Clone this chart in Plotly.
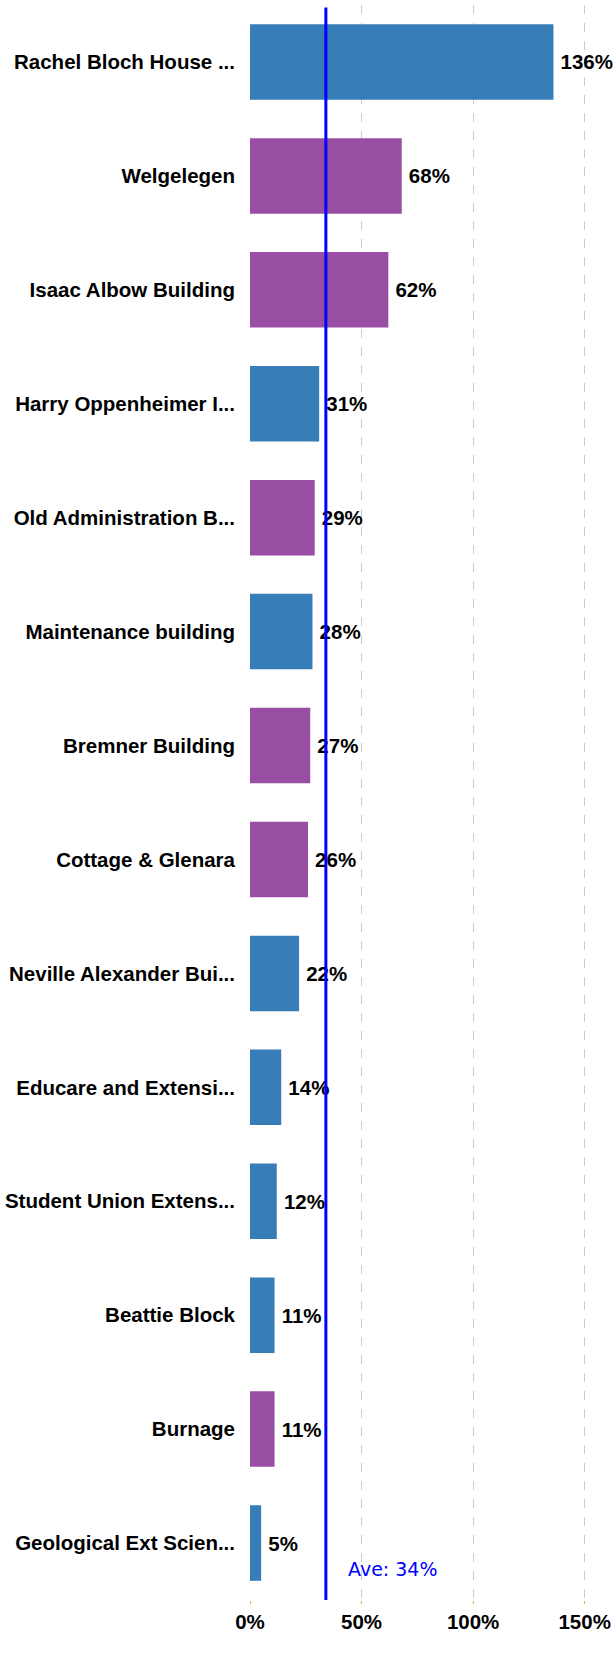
import plotly.graph_objects as go

categories = ["Rachel Bloch House ...", "Welgelegen", "Isaac Albow Building",
              "Harry Oppenheimer I...", "Old Administration B...", "Maintenance building",
              "Bremner Building", "Cottage & Glenara", "Neville Alexander Bui...",
              "Educare and Extensi...", "Student Union Extens...", "Beattie Block",
              "Burnage", "Geological Ext Scien..."]
values = [136, 68, 62, 31, 29, 28, 27, 26, 22, 14, 12, 11, 11, 5]
groups = ["b", "p", "p", "b", "p", "b", "p", "p", "b", "b", "b", "b", "p", "b"]
average = 34
x_ticks = [0, 50, 100, 150]

color_map = {"b": "#377eb8", "p": "#984ea3"}
colors = [color_map[g] for g in groups]

fig = go.Figure(go.Bar(
    x=values, y=categories, orientation="h",
    marker=dict(color=colors, line=dict(width=0)),
    text=[f"\u2009{v}%" for v in values], textposition="outside",
    textfont=dict(family="Liberation Sans, Arial, sans-serif", size=20.5, color="black", weight="bold"),
    cliponaxis=False,
))

fig.add_shape(type="line", xref="x", yref="paper", x0=average, x1=average, y0=0, y1=0.9985,
              line=dict(color="#0000ff", width=3))
fig.add_annotation(xref="x", yref="paper", x=43, y=0.011, xanchor="left", yanchor="bottom",
                   text=f"Ave: {average}%", showarrow=False,
                   font=dict(family="DejaVu Sans, Verdana, sans-serif", size=19, color="#0000ff"))

fig.update_layout(
    width=616, height=1654,
    margin=dict(l=250, r=7, t=5, b=54),
    paper_bgcolor="white", plot_bgcolor="white",
    bargap=0.337, showlegend=False,
    font=dict(family="Liberation Sans, Arial, sans-serif", size=20.5, color="black"),
)
fig.update_xaxes(range=[0, 160], tickvals=x_ticks, ticktext=[f"{t}%" for t in x_ticks],
                 showgrid=True, gridcolor="#cccccc", griddash="dash", gridwidth=1,
                 zeroline=False, showline=False,
                 ticks="outside", ticklen=3, tickcolor="#f5a742", tickwidth=1,
                 tickfont=dict(size=20.5, weight="bold", color="black"))
fig.update_yaxes(autorange="reversed", showgrid=False, zeroline=False, showline=False,
                 ticklabelstandoff=14,
                 tickfont=dict(size=20.5, weight="bold", color="black"))

fig.write_html("out.html", config={"displayModeBar": False},
               post_script="document.body.style.margin='0';document.body.style.overflow='hidden';")
